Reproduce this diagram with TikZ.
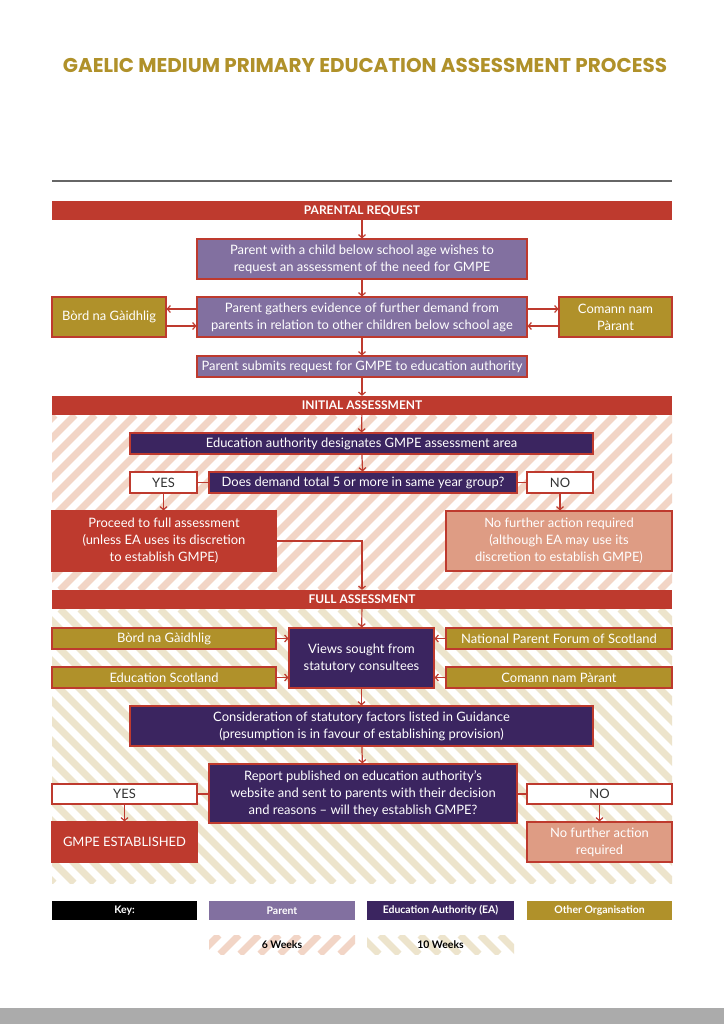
\documentclass[tikz,border=0pt]{standalone}
\usepackage{fontspec}
\setmainfont{Lato}
\newfontfamily\titlefont{Poppins}
\usetikzlibrary{arrows.meta, positioning, calc}
\usepackage{xcolor}
\definecolor{gaelred}{HTML}{BE3A2E}
\definecolor{parentpurple}{HTML}{8270A0}
\definecolor{eapurple}{HTML}{3B2560}
\definecolor{orggold}{HTML}{B0912A}
\definecolor{salmon}{HTML}{DE9C84}
\definecolor{pinkstripe}{HTML}{F2D5C6}
\definecolor{beigestripe}{HTML}{EDE4CC}
\tikzset{
    bar/.style={rectangle, fill=gaelred, text=white, inner sep=0pt, minimum width=620bp, minimum height=19bp, font=\fontsize{12}{14}\selectfont\bfseries},
    box/.style={rectangle, draw=gaelred, line width=1.2bp, inner sep=0pt, align=center, text=white, font=\fontsize{13}{17}\selectfont},
    parentbox/.style={box, fill=parentpurple},
    eabox/.style={box, fill=eapurple},
    orgbox/.style={box, fill=orggold},
    answer/.style={box, fill=white, text=black!80},
    redbox/.style={box, fill=gaelred},
    salmonbox/.style={box, fill=salmon},
    keybox/.style={rectangle, inner sep=0pt, minimum height=19bp, text=white, font=\fontsize{10.5}{12}\selectfont\bfseries},
    arrow/.style={draw=gaelred, line width=1.2bp, -{Straight Barb[length=3bp,width=7bp]}},
    link/.style={draw=gaelred, line width=1.2bp}
}

\begin{document}
\begin{tikzpicture}[x=1bp, y=-1bp]
    \useasboundingbox (0,0) rectangle (724,1024);
    \fill[white] (0,0) rectangle (724,1024);
    \fill[black!33] (0,1008) rectangle (724,1024);

    % title and rule
    \node[text=orggold] (title) at (365,65) {\titlefont\fontsize{20}{24}\selectfont\bfseries GAELIC MEDIUM PRIMARY EDUCATION ASSESSMENT PROCESS};
    \draw[black!60, line width=1.5bp] (52,181) -- (672,181);

    % striped backgrounds
    \begin{scope}
        \clip (52,415) rectangle (672,590);
        \foreach \i in {-140,-120,...,680}
            \draw[pinkstripe, line width=7bp] (\i,590) -- (\i+175,415);
    \end{scope}
    \begin{scope}
        \clip (52,609) rectangle (672,883);
        \foreach \i in {-240,-220,...,680}
            \draw[beigestripe, line width=7bp] (\i,609) -- (\i+274,883);
    \end{scope}

    % parental request
    \node[bar] (reqbar) at (362,210.5) {PARENTAL REQUEST};
    \node[parentbox, minimum width=330bp, minimum height=40bp] (wish) at (362,259) {Parent with a child below school age wishes to\\request an assessment of the need for GMPE};
    \node[parentbox, minimum width=330bp, minimum height=40bp] (gathers) at (362,317) {Parent gathers evidence of further demand from\\parents in relation to other children below school age};
    \node[orgbox, minimum width=114bp, minimum height=40bp] (bord1) at (109,317) {B\`ord na G\`aidhlig};
    \node[orgbox, minimum width=113bp, minimum height=40bp] (comann1) at (615.5,317) {Comann nam\\P\`arant};
    \node[parentbox, minimum width=330bp, minimum height=21bp] (submit) at (362,366.5) {Parent submits request for GMPE to education authority};

    \draw[arrow] (reqbar) -- (wish);
    \draw[arrow] (wish) -- (gathers);
    \draw[arrow] (gathers) -- (submit);
    \draw[arrow] ([yshift=8bp]gathers.west) -- ([yshift=8bp]bord1.east);
    \draw[arrow] ([yshift=-9bp]bord1.east) -- ([yshift=-9bp]gathers.west);
    \draw[arrow] ([yshift=8bp]gathers.east) -- ([yshift=8bp]comann1.west);
    \draw[arrow] ([yshift=-9bp]comann1.west) -- ([yshift=-9bp]gathers.east);

    % initial assessment
    \node[bar] (initbar) at (362,405.5) {INITIAL ASSESSMENT};
    \node[eabox, minimum width=463bp, minimum height=21bp] (designate) at (361.5,443.5) {Education authority designates GMPE assessment area};
    \node[eabox, minimum width=308bp, minimum height=21bp] (decide) at (363,482.5) {Does demand total 5 or more in same year group?};
    \node[answer, minimum width=67bp, minimum height=21bp] (yes1) at (163.5,482.5) {YES};
    \node[answer, minimum width=66bp, minimum height=21bp] (no1) at (560,482.5) {NO};
    \node[redbox, minimum width=224bp, minimum height=60bp] (proceed) at (164,541) {Proceed to full assessment\\(unless EA uses its discretion\\to establish GMPE)};
    \node[salmonbox, minimum width=226bp, minimum height=60bp] (nofurther1) at (559,541) {No further action required\\(although EA may use its\\discretion to establish GMPE)};

    \draw[arrow] (submit) -- (initbar);
    \draw[arrow] (initbar) -- (designate);
    \draw[arrow] (designate) -- (decide);
    \draw[link] (yes1) -- (decide);
    \draw[link] (decide) -- (no1);
    \draw[arrow] (yes1) -- (yes1 |- proceed.north);
    \draw[arrow] (no1) -- (no1 |- nofurther1.north);

    % full assessment
    \node[bar] (fullbar) at (362,599.5) {FULL ASSESSMENT};
    \draw[arrow] (proceed.east) -| (fullbar.north);
    \node[eabox, minimum width=145bp, minimum height=60bp] (views) at (361.5,658) {Views sought from\\statutory consultees};
    \node[orgbox, minimum width=224bp, minimum height=21bp] (bord2) at (164,638.5) {B\`ord na G\`aidhlig};
    \node[orgbox, minimum width=224bp, minimum height=21bp] (edscot) at (164,677.5) {Education Scotland};
    \node[orgbox, minimum width=226bp, minimum height=21bp] (npf) at (559,638.5) {National Parent Forum of Scotland};
    \node[orgbox, minimum width=226bp, minimum height=21bp] (comann2) at (559,677.5) {Comann nam P\`arant};
    \node[eabox, minimum width=463bp, minimum height=40bp] (consider) at (361.5,726) {Consideration of statutory factors listed in Guidance\\(presumption is in favour of establishing provision)};
    \node[eabox, minimum width=308bp, minimum height=59bp] (report) at (363,793.5) {Report published on education authority's\\website and sent to parents with their decision\\and reasons -- will they establish GMPE?};
    \node[answer, minimum width=145bp, minimum height=20bp] (yes2) at (124.5,794) {YES};
    \node[answer, minimum width=145bp, minimum height=20bp] (no2) at (599.5,794) {NO};
    \node[redbox, minimum width=145bp, minimum height=40bp] (established) at (124.5,842) {GMPE ESTABLISHED};
    \node[salmonbox, minimum width=145bp, minimum height=40bp] (nofurther2) at (599.5,842) {No further action\\required};

    \draw[arrow] (fullbar) -- (views);
    \draw[arrow] (bord2) -- (views.west |- bord2);
    \draw[arrow] (edscot) -- (views.west |- edscot);
    \draw[arrow] (npf) -- (views.east |- npf);
    \draw[arrow] (comann2) -- (views.east |- comann2);
    \draw[arrow] (views) -- (consider);
    \draw[arrow] (consider) -- (report);
    \draw[link] (yes2) -- (report.west |- yes2);
    \draw[link] (report.east |- no2) -- (no2);
    \draw[arrow] (yes2) -- (established);
    \draw[arrow] (no2) -- (nofurther2);

    % key
    \node[keybox, fill=black, minimum width=145bp] (keylabel) at (124.5,910.5) {Key:};
    \node[keybox, fill=parentpurple, minimum width=146bp] (keyparent) at (282,910.5) {Parent};
    \node[keybox, fill=eapurple, minimum width=147bp] (keyea) at (440.5,910.5) {Education Authority (EA)};
    \node[keybox, fill=orggold, minimum width=145bp] (keyorg) at (599.5,910.5) {Other Organisation};
    \begin{scope}
        \clip (209,935) rectangle (355,954);
        \foreach \i in {180,200,...,360}
            \draw[pinkstripe, line width=7bp] (\i,954) -- (\i+19,935);
    \end{scope}
    \begin{scope}
        \clip (367,935) rectangle (514,954);
        \foreach \i in {340,360,...,520}
            \draw[beigestripe, line width=7bp] (\i,935) -- (\i+19,954);
    \end{scope}
    \node[keybox, text=black, minimum width=146bp] (sixweeks) at (282,944.5) {6 Weeks};
    \node[keybox, text=black, minimum width=147bp] (tenweeks) at (440.5,944.5) {10 Weeks};
\end{tikzpicture}
\end{document}
